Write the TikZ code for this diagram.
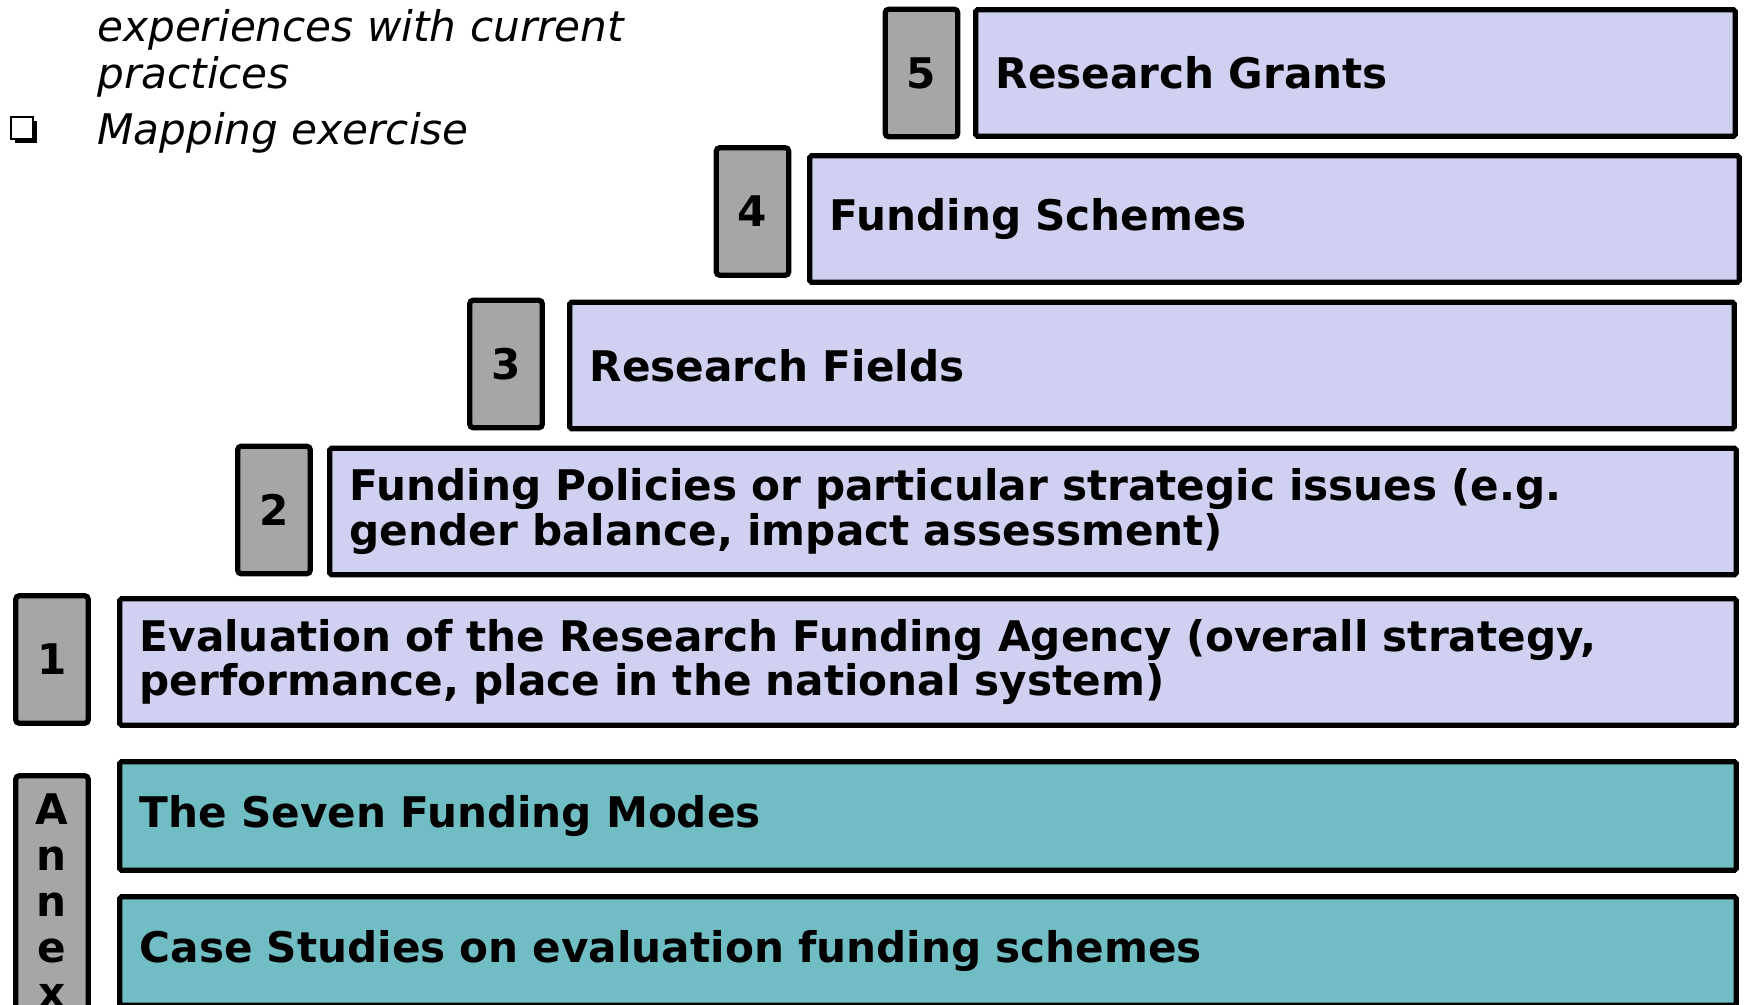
\documentclass[tikz,border=0pt]{standalone}
\usepackage{fontspec}
\setmainfont{DejaVu Sans}
\usepackage{tikz}
\usepackage{xcolor}
\usetikzlibrary{positioning}

\definecolor{lavender}{RGB}{208,208,240}
\definecolor{annexteal}{RGB}{112,190,196}
\definecolor{numgray}{RGB}{166,166,166}

\begin{document}
\begin{tikzpicture}[
    numbox/.style={rectangle, draw=black, line width=3pt, rounded corners=2pt, fill=numgray, minimum width=1.45cm, minimum height=2.55cm, inner sep=0pt, align=center, font=\fontsize{24}{26}\selectfont\bfseries},
    topicbox/.style={rectangle, draw=black, line width=3pt, rounded corners=1pt, fill=lavender, text width=#1, minimum height=2.53cm, inner xsep=0.4cm, inner ysep=0pt, align=left, font=\fontsize{24}{25.2}\selectfont\bfseries},
    annexbox/.style={topicbox=#1, fill=annexteal, minimum height=2.17cm},
    note/.style={anchor=base west, inner sep=0pt, font=\fontsize{24}{26}\selectfont\itshape}
]
\useasboundingbox (0,0) rectangle (34.92,-20.10);
\clip (0,0) rectangle (34.92,-20.10);

% Notes top left
\node[note] (exper) at (1.94,-0.84) {experiences with current};
\node[note] (practices) at (1.94,-1.77) {practices};
\node[note] (mapping) at (1.94,-2.90) {Mapping exercise};
\fill (0.30,-2.42) rectangle (0.74,-2.86);
\draw[line width=1.3pt, fill=white] (0.22,-2.34) rectangle (0.66,-2.78);

% Steps from top to bottom
\node[numbox] (n5) at (18.43,-1.46) {5};
\node[topicbox=14.39cm] (t5) at (27.11,-1.46) {Research Grants};
\node[numbox] (n4) at (15.05,-4.23) {4};
\node[topicbox=17.79cm] (t4) at (25.49,-4.38) {Funding Schemes};
\node[numbox] (n3) at (10.12,-7.28) {3};
\node[topicbox=22.49cm] (t3) at (23.04,-7.31) {Research Fields};
\node[numbox] (n2) at (5.48,-10.20) {2};
\node[topicbox=27.33cm] (t2) at (20.66,-10.23) {Funding Policies or particular strategic issues (e.g.\\gender balance, impact assessment)};
\node[numbox] (n1) at (1.04,-13.19) {1};
\node[topicbox=31.53cm] (t1) at (18.56,-13.24) {Evaluation of the Research Funding Agency (overall strategy,\\performance, place in the national system)};

% Annex
\node[numbox, minimum height=5.01cm] (annex) at (1.04,-18.02) {A\\n\\n\\e\\x};
\node[annexbox=31.53cm] (modes) at (18.56,-16.32) {The Seven Funding Modes};
\node[annexbox=31.53cm] (cases) at (18.56,-19.02) {Case Studies on evaluation funding schemes};

\end{tikzpicture}
\end{document}
